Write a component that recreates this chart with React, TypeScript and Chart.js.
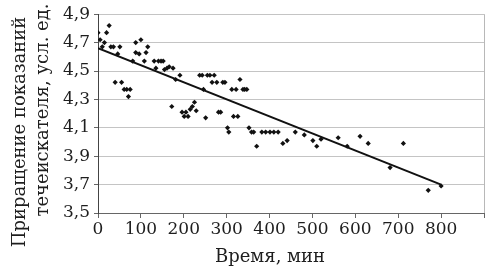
import React, { useEffect, useRef } from "react";
import { Chart, registerables } from "chart.js";

Chart.register(...registerables);

// Time, minutes
const timeMin = [
  0, 5, 10, 15, 20, 26, 30, 36, 40, 46, 51, 55, 61, 67, 71, 75, 81, 88, 88, 96,
  100, 108, 112, 116, 131, 135, 141, 147, 152, 155, 161, 166, 172, 175, 181, 191,
  196, 201, 205, 210, 215, 220, 225, 229, 237, 243, 246, 251, 255, 261, 266, 271,
  277, 281, 286, 291, 296, 302, 305, 312, 316, 322, 326, 331, 338, 342, 347, 352,
  358, 363, 370, 382, 391, 401, 410, 420, 431, 441, 460, 481, 501, 510, 520, 560,
  581, 611, 630, 681, 712, 770, 800,
];
// Reading increment, arbitrary units
const increment = [
  4.77, 4.72, 4.67, 4.70, 4.77, 4.82, 4.67, 4.67, 4.42, 4.62, 4.67, 4.42, 4.37, 4.37, 4.32, 4.37, 4.57, 4.70, 4.63, 4.62,
  4.72, 4.57, 4.63, 4.67, 4.57, 4.52, 4.57, 4.57, 4.57, 4.51, 4.52, 4.53, 4.25, 4.52, 4.44, 4.47,
  4.21, 4.18, 4.21, 4.18, 4.23, 4.25, 4.28, 4.22, 4.47, 4.47, 4.37, 4.17, 4.47, 4.47, 4.42, 4.47,
  4.42, 4.21, 4.21, 4.42, 4.42, 4.10, 4.07, 4.37, 4.18, 4.37, 4.18, 4.44, 4.37, 4.37, 4.37, 4.10,
  4.07, 4.07, 3.97, 4.07, 4.07, 4.07, 4.07, 4.07, 3.99, 4.01, 4.07, 4.05, 4.01, 3.97, 4.02, 4.03,
  3.97, 4.04, 3.99, 3.82, 3.99, 3.66, 3.69,
];
// Linear trend line end points
const trendTime = [0, 800];
const trendValue = [4.66, 3.7];

const xTicks = [0, 100, 200, 300, 400, 500, 600, 700, 800, 900];
const yTicks = [3.5, 3.7, 3.9, 4.1, 4.3, 4.5, 4.7, 4.9];

const xTitle = "Время, мин";
const yTitle1 = "Приращение показаний";
const yTitle2 = "течеискателя, усл. ед.";

const FONT = '"DejaVu Serif", serif';
const TEXT = "#1e1e1e";

export default function App() {
  const ref = useRef<HTMLCanvasElement | null>(null);

  useEffect(() => {
    if (!ref.current) return;
    const titlePlugin = {
      id: "titles",
      afterDraw(chart: any) {
        const ctx = chart.ctx;
        const area = chart.chartArea;
        ctx.save();
        // right frame
        ctx.strokeStyle = "#b8b8b8";
        ctx.lineWidth = 1;
        ctx.beginPath();
        ctx.moveTo(Math.round(area.right) + 0.5, area.top);
        ctx.lineTo(Math.round(area.right) + 0.5, area.bottom);
        ctx.stroke();
        ctx.fillStyle = TEXT;
        ctx.font = `18px ${FONT}`;
        ctx.textAlign = "center";
        ctx.textBaseline = "middle";
        ctx.fillText(xTitle, 270, 257);
        ctx.save();
        ctx.translate(20, 132);
        ctx.rotate(-Math.PI / 2);
        ctx.fillText(yTitle1, 0, 0);
        ctx.restore();
        ctx.save();
        ctx.translate(43, 110);
        ctx.rotate(-Math.PI / 2);
        ctx.fillText(yTitle2, 0, 0);
        ctx.restore();
        ctx.restore();
      },
    };

    const chart = new Chart(ref.current, {
      type: "scatter",
      data: {
        datasets: [
          {
            data: timeMin.map((t, i) => ({ x: t, y: increment[i] })),
            pointStyle: "rectRot",
            pointRadius: 2.6,
            backgroundColor: "#111",
            borderColor: "#111",
            borderWidth: 0,
            showLine: false,
            order: 2,
          },
          {
            type: "line",
            data: trendTime.map((t, i) => ({ x: t, y: trendValue[i] })),
            borderColor: "#111",
            borderWidth: 2,
            pointRadius: 0,
            showLine: true,
            fill: false,
            order: 1,
          } as any,
        ],
      },
      options: {
        responsive: false,
        animation: false,
        layout: { padding: { top: 11, right: 9, left: 0, bottom: 0 } },
        plugins: {
          legend: { display: false },
          tooltip: { enabled: false },
        },
        scales: {
          x: {
            type: "linear",
            min: 0,
            max: 900,
            afterBuildTicks: (s: any) => {
              s.ticks = xTicks.map((v) => ({ value: v }));
            },
            afterFit: (s: any) => {
              s.height = 60;
            },
            ticks: {
              font: { family: FONT, size: 17 },
              color: TEXT,
              padding: 1,
              maxRotation: 0,
              autoSkip: false,
              callback: (v: any) => (v === 900 ? "" : String(v)),
            },
            grid: {
              drawOnChartArea: false,
              drawTicks: true,
              tickLength: 5,
              tickColor: "#666",
            },
            border: { color: "#666", width: 1 },
          },
          y: {
            type: "linear",
            min: 3.5,
            max: 4.9,
            afterBuildTicks: (s: any) => {
              s.ticks = yTicks.map((v) => ({ value: v }));
            },
            afterFit: (s: any) => {
              s.width = 98;
            },
            ticks: {
              font: { family: FONT, size: 17 },
              color: TEXT,
              padding: 4,
              autoSkip: false,
              callback: (v: any) => Number(v).toFixed(1).replace(".", ","),
            },
            grid: {
              color: "#c4c4c4",
              drawTicks: true,
              tickLength: 4,
              tickColor: "#666",
            },
            border: { color: "#444", width: 1 },
          },
        },
      },
      plugins: [titlePlugin],
    });
    return () => chart.destroy();
  }, []);

  return (
    <div style={{ position: "absolute", left: 0, top: 0, width: 493, height: 273, background: "#fff" }}>
      <canvas ref={ref} width={493} height={273} />
    </div>
  );
}
